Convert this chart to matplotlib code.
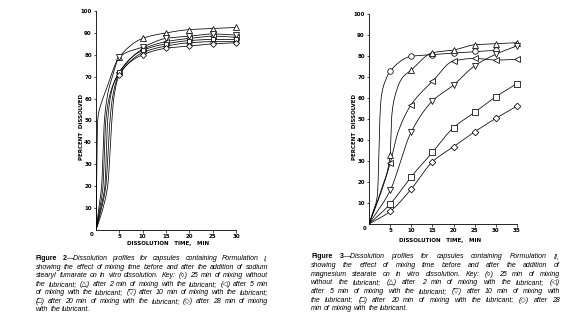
import numpy as np
import matplotlib
matplotlib.use('Agg')
import matplotlib.pyplot as plt

# ---- Figure 2, Formulation I : readings at the sampling times ----
time_f1 = [5, 10, 15, 20, 25, 30]
f1_circle = [71.5, 81, 84, 85.5, 86, 86]
f1_up = [79, 87.5, 90, 91.5, 92, 92.5]
f1_left = [72, 82.5, 86, 87.5, 88.5, 88]
f1_down = [79, 83.5, 87.5, 88.5, 89.5, 89]
f1_square = [72, 82, 85, 86.5, 87, 87]
f1_diamond = [71, 80, 83, 84, 85, 85.5]

# early part of the drawn curves (before 5 min): (times, percents)
f1_up_early = ([0, 0.35, 1, 2, 3, 4], [0, 50, 57, 63, 69, 75])
f1_down_early = ([0, 0.6, 1.2, 1.8, 2.5, 3.5], [0, 10, 20, 50, 62, 70])
f1_left_early = ([0, 1, 1.5, 2.1, 3, 4], [0, 12, 20, 50, 62, 68])
f1_circle_early = ([0, 1, 1.9, 2.5, 3.2, 4], [0, 10, 20, 50, 62, 68])
f1_square_early = ([0, 1.2, 2.1, 3.0, 3.5, 4.2], [0, 10, 20, 50, 60, 67])
f1_diamond_early = ([0, 1.5, 2.5, 3.4, 3.8, 4.4], [0, 10, 20, 50, 60, 67])

# ---- Figure 3, Formulation II ----
time_f2 = [5, 10, 15, 20, 25, 30, 35]
f2_circle = [73, 80, 80.8, 81.5, 82.3, 82.8, np.nan]
f2_up = [33, 73.5, 81.7, 83, 85.5, 86, 86.5]
f2_left = [29, 57, 68, 77.8, 79, 78.2, 78.6]
f2_down = [16, 44, 58.7, 66.3, 75.5, 81, 85]
f2_square = [9.5, 22.6, 34.2, 46, 53.3, 60.7, 67]
f2_diamond = [6, 16.7, 29.7, 36.9, 44, 50.4, 56.3]

f2_circle_early = ([0, 1, 2, 2.3, 2.6, 3, 4], [0, 6, 14, 30, 52, 62, 69])
f2_up_early = ([0, 3], [0, 17])
f2_up_mid = ([5.4, 6.2, 7.8], [52, 61.5, 69.5])
f2_left_early = ([0, 3], [0, 16])
f2_left_mid = ([6.9], [44])
f2_zero = ([0], [0])

cap1_lines = [
    "\u2014Dissolution profiles for capsules containing Formulation I,",
    "showing the effect of mixing time before and after the addition of sodium",
    "stearyl fumarate on in vitro dissolution. Key: (\u25cb) 25 min of mixing without",
    "the lubricant; (\u25b3) after 2 min of mixing with the lubricant; (\u25c1) after 5 min",
    "of mixing with the lubricant; (\u25bd) after 10 min of mixing with the lubricant;",
    "(\u25a1) after 20 min of mixing with the lubricant; (\u25c7) after 28 min of mixing",
    "with the lubricant.",
]
cap2_lines = [
    "\u2014Dissolution profiles for capsules containing Formulation II,",
    "showing the effect of mixing time before and after the addition of",
    "magnesium stearate on in vitro dissolution. Key: (\u25cb) 25 min of mixing",
    "without the lubricant; (\u25b3) after 2 min of mixing with the lubricant; (\u25c1)",
    "after 5 min of mixing with the lubricant; (\u25bd) after 10 min of mixing with",
    "the lubricant; (\u25a1) after 20 min of mixing with the lubricant; (\u25c7) after 28",
    "min of mixing with the lubricant.",
]

W, H = 564, 325


def pchip(x, y, xs):
    # monotone cubic (Fritsch-Carlson) to draw a smooth curve through the points
    x = np.asarray(x, float)
    y = np.asarray(y, float)
    h = np.diff(x)
    d = np.diff(y) / h
    m = np.zeros_like(y)
    for k in range(1, len(x) - 1):
        if d[k - 1] * d[k] > 0:
            w1 = 2 * h[k] + h[k - 1]
            w2 = h[k] + 2 * h[k - 1]
            m[k] = (w1 + w2) / (w1 / d[k - 1] + w2 / d[k])
    m[0] = d[0]
    m[-1] = d[-1]
    idx = np.clip(np.searchsorted(x, xs) - 1, 0, len(h) - 1)
    t = (xs - x[idx]) / h[idx]
    h00 = 2 * t**3 - 3 * t**2 + 1
    h10 = t**3 - 2 * t**2 + t
    h01 = -2 * t**3 + 3 * t**2
    h11 = t**3 - t**2
    return h00 * y[idx] + h10 * h[idx] * m[idx] + h01 * y[idx + 1] + h11 * h[idx] * m[idx + 1]


def draw(ax, t, v, extra, marker, ms):
    tt = np.array(list(t) + [p for e in extra for p in e[0]], float)
    vv = np.array(list(v) + [p for e in extra for p in e[1]], float)
    ok = ~np.isnan(vv)
    tt, vv = tt[ok], vv[ok]
    order = np.argsort(tt)
    tt, vv = tt[order], vv[order]
    xs = np.linspace(tt[0], tt[-1], 500)
    ax.plot(xs, pchip(tt, vv, xs), color='black', lw=0.55, zorder=2)
    ax.plot(t, v, ls='none', marker=marker, ms=ms, mfc='white', mec='black',
            mew=0.55, zorder=3, clip_on=False)


def style_axes(ax, xmax, xstep):
    for s in ['top', 'right']:
        ax.spines[s].set_visible(False)
    for s in ['left', 'bottom']:
        ax.spines[s].set_linewidth(0.6)
    ax.set_xlim(0, xmax)
    ax.set_ylim(0, 100)
    ax.set_xticks(range(xstep, xmax + 1, xstep))
    ax.set_yticks(range(10, 101, 10))
    ax.tick_params(length=1.8, width=0.5, pad=1.2, labelsize=4)
    for lab in ax.get_xticklabels() + ax.get_yticklabels():
        lab.set_fontweight('bold')
    ax.annotate('0', xy=(0, 0), xycoords='axes fraction', xytext=(-3.5, -3),
                textcoords='offset points', ha='center', va='center',
                fontsize=4, fontweight='bold')


fig = plt.figure(figsize=(W / 100, H / 100), dpi=100)

ax1 = fig.add_axes([96 / W, 1 - 230 / H, 140 / W, 219 / H])
draw(ax1, time_f1, f1_circle, [f1_circle_early], 'o', 3.6)
draw(ax1, time_f1, f1_up, [f1_up_early], '^', 3.8)
draw(ax1, time_f1, f1_left, [f1_left_early], '<', 3.8)
draw(ax1, time_f1, f1_down, [f1_down_early], 'v', 3.8)
draw(ax1, time_f1, f1_square, [f1_square_early], 's', 3.4)
draw(ax1, time_f1, f1_diamond, [f1_diamond_early], 'D', 3.0)
style_axes(ax1, 30, 5)

ax2 = fig.add_axes([369 / W, 1 - 224 / H, 148 / W, 209.6 / H])
draw(ax2, time_f2, f2_circle, [f2_circle_early], 'o', 4.0)
draw(ax2, time_f2, f2_up, [f2_up_early, f2_up_mid], '^', 4.2)
draw(ax2, time_f2, f2_left, [f2_left_early, f2_left_mid], '<', 4.2)
draw(ax2, time_f2, f2_down, [f2_zero], 'v', 4.2)
draw(ax2, time_f2, f2_square, [f2_zero], 's', 3.8)
draw(ax2, time_f2, f2_diamond, [f2_zero], 'D', 3.4)
style_axes(ax2, 35, 5)

# axis titles
lab = dict(fontsize=4, fontweight='bold', ha='center', va='center')
fig.text(81 / W, 1 - 127 / H, 'PERCENT  DISSOLVED', rotation=90, **lab)
fig.text(354 / W, 1 - 127 / H, 'PERCENT  DISSOLVED', rotation=90, **lab)
fig.text(168 / W, 1 - 243.5 / H, 'DISSOLUTION   TIME,   MIN', **lab)
fig.text(440 / W, 1 - 240.5 / H, 'DISSOLUTION   TIME,   MIN', **lab)

# captions, justified line by line
cap_font = ['Liberation Sans', 'DejaVu Sans']


def caption(head, lines, x0, x1, y0, dy, size=5.0):
    r = fig.canvas.get_renderer()
    for i, line in enumerate(lines):
        y = 1 - (y0 + i * dy) / H
        toks = [[(w, 'normal', 'italic')] for w in line.split()]
        if i == 0:
            hw = head.split()
            toks = [[(hw[0], 'bold', 'normal')], [(hw[1], 'bold', 'normal')] + toks[0]] + toks[1:]
        placed = []
        widths = []
        for tok in toks:
            segs = []
            off = 0
            for s, wt, st in tok:
                t = fig.text(0, y, s, fontsize=size, fontweight=wt, fontstyle=st,
                             family=cap_font, ha='left', va='center')
                segs.append((t, off))
                off += t.get_window_extent(r).width
            placed.append(segs)
            widths.append(off)
        space = size * 1.389 * 0.28
        if i < len(lines) - 1:
            gap = max((x1 - x0 - sum(widths)) / (len(toks) - 1), 0.7)
        else:
            gap = space
        x = x0
        for segs, w in zip(placed, widths):
            for t, off in segs:
                t.set_x((x + off) / W)
            x += w + gap


caption('Figure 2', cap1_lines, 36, 268, 258.5, 8.55)
caption('Figure 3', cap2_lines, 311, 560, 257, 8.6)

fig.savefig('out.png', dpi=100)
